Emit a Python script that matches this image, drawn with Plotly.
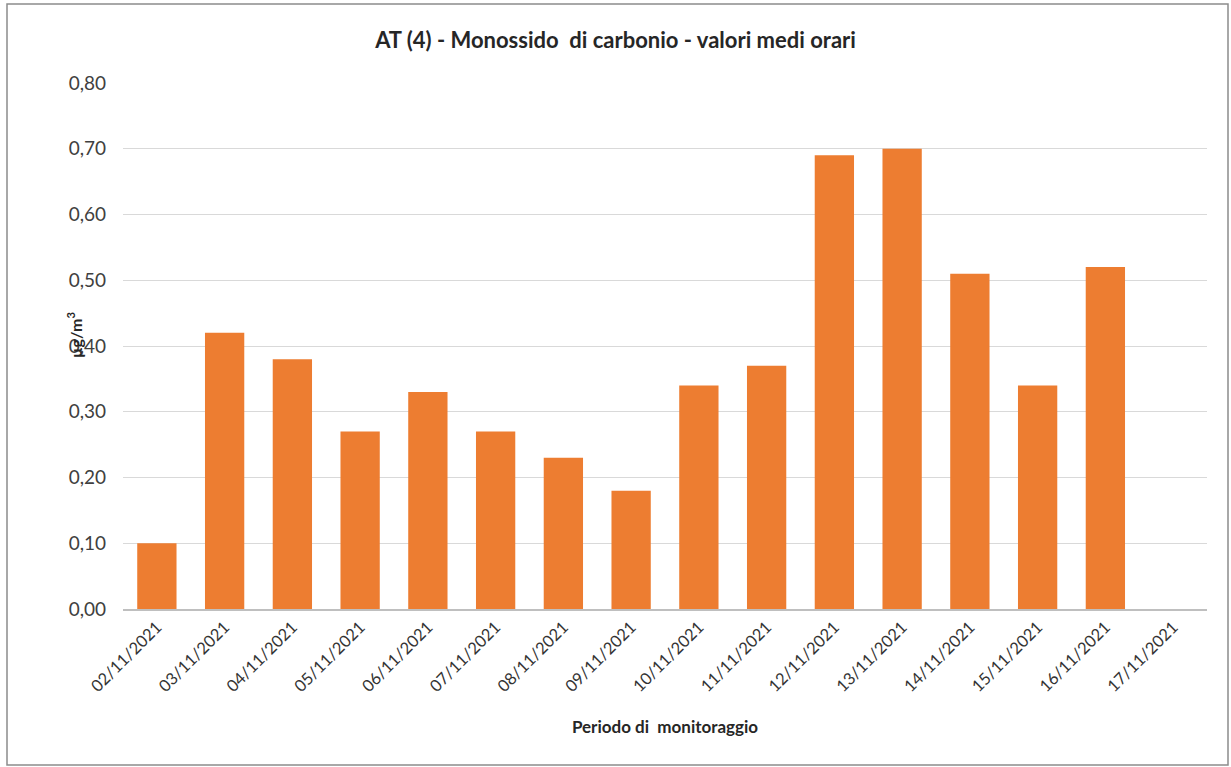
import plotly.graph_objects as go

dates = ["02/11/2021", "03/11/2021", "04/11/2021", "05/11/2021", "06/11/2021",
         "07/11/2021", "08/11/2021", "09/11/2021", "10/11/2021", "11/11/2021",
         "12/11/2021", "13/11/2021", "14/11/2021", "15/11/2021", "16/11/2021",
         "17/11/2021"]
values = [0.10, 0.42, 0.38, 0.27, 0.33, 0.27, 0.23, 0.18, 0.34, 0.37,
          0.69, 0.70, 0.51, 0.34, 0.52, None]
y_ticks = [0.0, 0.1, 0.2, 0.3, 0.4, 0.5, 0.6, 0.7, 0.8]

FONT = "Lato, 'Open Sans', sans-serif"

fig = go.Figure(go.Bar(x=dates, y=values, marker_color="#ED7D31",
                       marker_line_width=0, width=0.58))

L, R, T, B = 123, 24, 83, 158
W, H = 1231, 767
pw, ph = W - L - R, H - T - B

def px_x(x):
    return (x - L) / pw

def px_y(y):
    return (H - B - y) / ph

fig.update_layout(
    width=W, height=H,
    margin=dict(l=L, r=R, t=T, b=B),
    paper_bgcolor="white", plot_bgcolor="white",
    separators=",.",
    showlegend=False,
    title=dict(text="<b>AT (4) - Monossido  di carbonio - valori medi orari</b>",
               x=0.5, xref="container", xanchor="center",
               y=1 - 40 / H, yref="container", yanchor="middle",
               font=dict(family=FONT, size=22, color="#262626")),
    xaxis=dict(type="category", tickangle=-45, showgrid=False,
               tickfont=dict(family=FONT, size=16.5, color="#333333"),
               showline=True, linecolor="#bfbfbf", linewidth=2,
               ticks="", title=dict(text="<b>Periodo di  monitoraggio</b>",
                                    font=dict(family=FONT, size=17, color="#262626"),
                                    standoff=26)),
    yaxis=dict(range=[0, 0.8], tickvals=y_ticks, tickformat=".2f",
               showgrid=True, gridcolor="#d9d9d9", gridwidth=1,
               zeroline=False, showline=False, ticks="",
               tickfont=dict(family=FONT, size=19, color="#404040"),
               ticklabelstandoff=16),
    shapes=[dict(type="rect", xref="paper", yref="paper",
                 x0=px_x(7), x1=px_x(1228), y0=px_y(765), y1=px_y(4),
                 line=dict(color="#8c8c8c", width=1.5), layer="below")],
    annotations=[dict(text="<b>µg/m<sup>3</sup></b>", textangle=-90,
                      xref="paper", yref="paper", x=px_x(74), y=px_y(335),
                      xanchor="center", yanchor="middle", showarrow=False,
                      font=dict(family=FONT, size=16, color="#262626"))],
)

fig.write_html("out.html",
               config={"displayModeBar": False},
               post_script="document.body.style.margin='0';document.body.style.overflow='hidden';")
